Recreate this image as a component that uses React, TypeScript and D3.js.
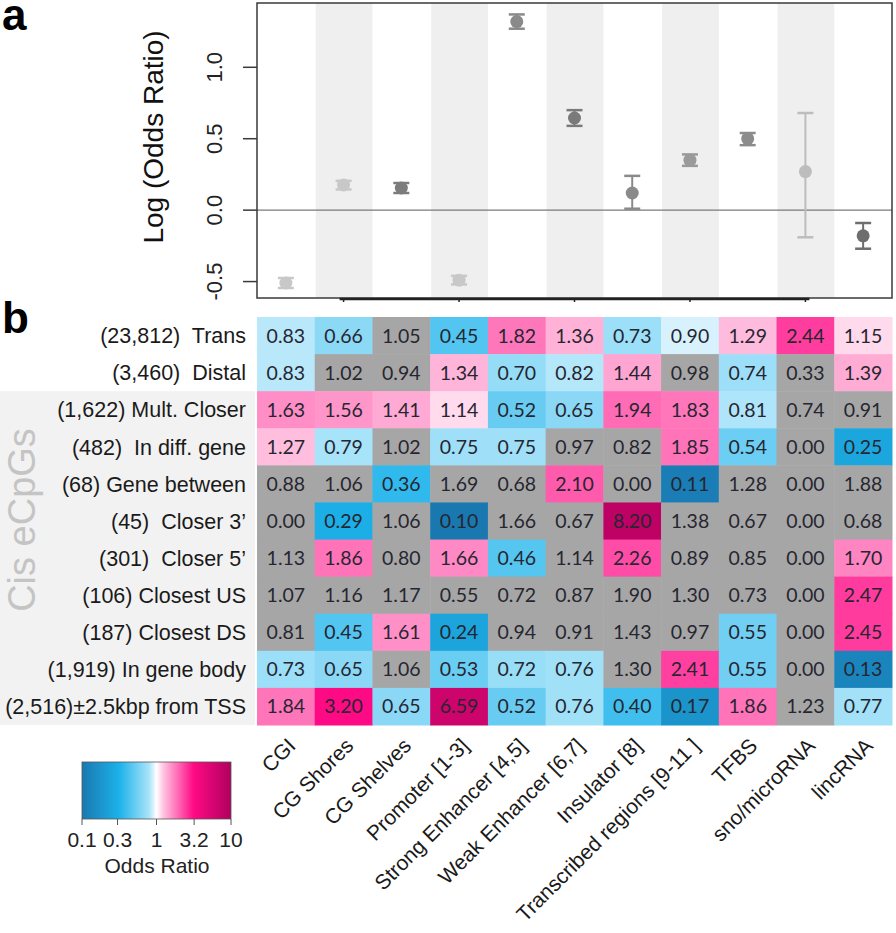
import React from "react";
import * as d3 from "d3";

const columns = [
  "CGI", "CG Shores", "CG Shelves", "Promoter [1-3]", "Strong Enhancer [4,5]",
  "Weak Enhancer [6,7]", "Insulator [8]", "Transcribed regions [9-11 ]", "TFBS",
  "sno/microRNA", "lincRNA",
];

// panel a: log odds ratio with confidence limits
const logOR = [-0.51, 0.176, 0.155, -0.49, 1.32, 0.645, 0.12, 0.35, 0.5, 0.27, -0.18];
const ciLow = [-0.545, 0.145, 0.12, -0.52, 1.27, 0.59, 0.01, 0.31, 0.455, -0.19, -0.27];
const ciHigh = [-0.475, 0.205, 0.19, -0.46, 1.37, 0.7, 0.24, 0.39, 0.54, 0.68, -0.09];
const yTicks = [-0.5, 0, 0.5, 1.0];
const pointShades = ["#c8c8c8", "#c8c8c8", "#7c7c7c", "#c8c8c8", "#8a8a8a", "#7a7a7a", "#8a8a8a", "#9a9a9a", "#8c8c8c", "#bdbdbd", "#6e6e6e"];

// panel b: odds ratio heatmap
const rowLabels = [
  "(23,812)  Trans", "(3,460)  Distal", "(1,622) Mult. Closer", "(482)  In diff. gene",
  "(68) Gene between", "(45)  Closer 3\u2019", "(301)  Closer 5\u2019", "(106) Closest US",
  "(187) Closest DS", "(1,919) In gene body", "(2,516)\u00b12.5kbp from TSS",
];
const oddsRatios = [
  [0.83, 0.66, 1.05, 0.45, 1.82, 1.36, 0.73, 0.9, 1.29, 2.44, 1.15],
  [0.83, 1.02, 0.94, 1.34, 0.7, 0.82, 1.44, 0.98, 0.74, 0.33, 1.39],
  [1.63, 1.56, 1.41, 1.14, 0.52, 0.65, 1.94, 1.83, 0.81, 0.74, 0.91],
  [1.27, 0.79, 1.02, 0.75, 0.75, 0.97, 0.82, 1.85, 0.54, 0.0, 0.25],
  [0.88, 1.06, 0.36, 1.69, 0.68, 2.1, 0.0, 0.11, 1.28, 0.0, 1.88],
  [0.0, 0.29, 1.06, 0.1, 1.66, 0.67, 8.2, 1.38, 0.67, 0.0, 0.68],
  [1.13, 1.86, 0.8, 1.66, 0.46, 1.14, 2.26, 0.89, 0.85, 0.0, 1.7],
  [1.07, 1.16, 1.17, 0.55, 0.72, 0.87, 1.9, 1.3, 0.73, 0.0, 2.47],
  [0.81, 0.45, 1.61, 0.24, 0.94, 0.91, 1.43, 0.97, 0.55, 0.0, 2.45],
  [0.73, 0.65, 1.06, 0.53, 0.72, 0.76, 1.3, 2.41, 0.55, 0.0, 0.13],
  [1.84, 3.2, 0.65, 6.59, 0.52, 0.76, 0.4, 0.17, 1.86, 1.23, 0.77],
];
const significant = [
  [1, 1, 0, 1, 1, 1, 1, 1, 1, 1, 1],
  [1, 0, 0, 1, 1, 1, 1, 0, 1, 0, 1],
  [1, 1, 1, 1, 1, 1, 1, 1, 1, 0, 0],
  [1, 1, 0, 1, 1, 0, 0, 1, 1, 0, 1],
  [0, 0, 1, 0, 0, 1, 0, 1, 0, 0, 0],
  [0, 1, 0, 1, 0, 0, 1, 0, 0, 0, 0],
  [0, 1, 0, 1, 1, 0, 1, 0, 0, 0, 1],
  [0, 0, 0, 0, 0, 0, 0, 0, 0, 0, 1],
  [0, 1, 1, 1, 0, 0, 0, 0, 1, 0, 1],
  [1, 1, 0, 1, 1, 1, 0, 1, 1, 0, 1],
  [1, 1, 1, 1, 1, 1, 1, 1, 1, 0, 1],
];
const legendTicks = [0.1, 0.3, 1, 3.2, 10];

const SANS = "'Liberation Sans', Arial, Helvetica, sans-serif";
const CELLFONT = "Lato, 'Open Sans', sans-serif";

const colorScale = d3
  .scaleLinear<string>()
  .domain([-1, -0.5, -0.1, 0, 0.1, 0.5, 1])
  .range(["#1a78b0", "#1cb2ea", "#a8e3f9", "#ffffff", "#ffc0df", "#ff0a85", "#b0005e"])
  .interpolate(d3.interpolateRgb)
  .clamp(true);

export default function App() {
  const left = 257;
  const right = 892;
  const x = d3.scaleBand<number>().domain(d3.range(columns.length)).range([left, right]).padding(0);
  const y = d3.scaleLinear().domain([-0.615, 1.45]).range([298, 3]);
  const rowsY = d3.scaleBand<number>().domain(d3.range(rowLabels.length)).range([317, 725]).padding(0);
  const bw = x.bandwidth();
  const rh = rowsY.bandwidth();

  const legX = d3.scaleLog().domain([0.1, 10]).range([82, 231]);
  const gradStops = d3.range(0, 1.0001, 0.05).map((t) => ({ t, c: colorScale(-1 + 2 * t) }));

  return (
    <svg width={896} height={933} style={{ position: "absolute", left: 0, top: 0, background: "#fff" }}>
      <defs>
        <linearGradient id="legGrad" x1="0" x2="1" y1="0" y2="0">
          {gradStops.map((s, i) => (
            <stop key={i} offset={`${s.t * 100}%`} stopColor={s.c} />
          ))}
        </linearGradient>
      </defs>

      {/* panel labels */}
      <text x={2} y={30} fontFamily={SANS} fontWeight="bold" fontSize={44}>a</text>
      <text x={2} y={333} fontFamily={SANS} fontWeight="bold" fontSize={44}>b</text>

      {/* panel a background bands */}
      {columns.map((_, i) =>
        i % 2 === 1 ? (
          <rect key={i} x={x(i)! + 1} y={3} width={bw - 1} height={295} fill="#efefef" />
        ) : null
      )}
      {/* zero line */}
      <line x1={left} x2={right} y1={y(0)} y2={y(0)} stroke="#7a7a7a" strokeWidth={1.3} />
      {/* error bars and points */}
      {columns.map((_, i) => {
        const cx = x(i)! + bw / 2;
        const c = pointShades[i];
        return (
          <g key={i}>
            <line x1={cx} x2={cx} y1={y(ciLow[i])} y2={y(ciHigh[i])} stroke={c} strokeWidth={2} />
            <line x1={cx - 8} x2={cx + 8} y1={y(ciLow[i])} y2={y(ciLow[i])} stroke={c} strokeWidth={2.5} />
            <line x1={cx - 8} x2={cx + 8} y1={y(ciHigh[i])} y2={y(ciHigh[i])} stroke={c} strokeWidth={2.5} />
            <circle cx={cx} cy={y(logOR[i])} r={6.5} fill={c} />
          </g>
        );
      })}
      {/* frame */}
      <rect x={left} y={3} width={right - left} height={295} fill="none" stroke="#3a3a3a" strokeWidth={1.5} />
      {/* y axis */}
      {yTicks.map((t) => (
        <g key={t}>
          <line x1={243} x2={left} y1={y(t)} y2={y(t)} stroke="#3a3a3a" strokeWidth={1.5} />
          <text
            transform={`translate(222,${y(t)}) rotate(-90)`}
            textAnchor="middle"
            fontFamily={SANS}
            fontSize={22}
            fill="#222"
          >
            {t.toFixed(1)}
          </text>
        </g>
      ))}
      <text
        transform={`translate(163,137) rotate(-90)`}
        textAnchor="middle"
        fontFamily={SANS}
        fontSize={28}
        fill="#111"
      >
        Log (Odds Ratio)
      </text>
      {/* bottom axis line */}
      <line
        x1={x(1)! + bw / 2 - 4}
        x2={x(9)! + bw / 2 + 4}
        y1={299}
        y2={299}
        stroke="#222"
        strokeWidth={2.5}
      />
      {[1, 3, 5, 7, 9].map((i) => (
        <line key={i} x1={x(i)! + bw / 2} x2={x(i)! + bw / 2} y1={299} y2={302} stroke="#222" strokeWidth={1.5} />
      ))}

      {/* panel b: cis background */}
      <rect x={0} y={rowsY(2)!} width={255} height={725 - rowsY(2)!} fill="#f2f2f2" />
      <text
        transform={`translate(35,520) rotate(-90)`}
        textAnchor="middle"
        fontFamily={SANS}
        fontSize={38}
        fill="#c4c4c4"
      >
        Cis eCpGs
      </text>

      {/* heatmap cells */}
      {oddsRatios.map((row, r) =>
        row.map((v, c) => {
          const fill = significant[r][c] ? colorScale(Math.log10(Math.max(v, 0.01))) : "#a6a6a6";
          return (
            <g key={`${r}-${c}`}>
              <rect x={x(c)!} y={rowsY(r)!} width={bw + 0.5} height={rh + 0.5} fill={fill} />
              <text
                x={x(c)! + bw / 2}
                y={rowsY(r)! + rh / 2}
                dy="0.36em"
                textAnchor="middle"
                fontFamily={CELLFONT}
                fontSize={19.5}
                fill="#262630"
              >
                {v.toFixed(2)}
              </text>
            </g>
          );
        })
      )}

      {/* row labels */}
      {rowLabels.map((lab, r) => (
        <text
          key={r}
          x={246}
          y={rowsY(r)! + rh / 2}
          dy="0.36em"
          textAnchor="end"
          fontFamily={SANS}
          fontSize={21.5}
          fill="#1a1a1a"
          style={{ whiteSpace: "pre" }}
        >
          {lab}
        </text>
      ))}

      {/* column labels */}
      {columns.map((lab, i) => (
        <text
          key={i}
          transform={`translate(${x(i)! + bw / 2 + 11},747) rotate(-45)`}
          textAnchor="end"
          fontFamily={SANS}
          fontSize={21}
          fill="#1a1a1a"
        >
          {lab}
        </text>
      ))}

      {/* legend */}
      <rect x={82} y={762} width={149} height={57} fill="url(#legGrad)" stroke="#555" strokeWidth={0.8} />
      {legendTicks.map((t) => (
        <g key={t}>
          <line x1={legX(t)} x2={legX(t)} y1={819} y2={825} stroke="#555" strokeWidth={1} />
          <text x={legX(t)} y={847} textAnchor="middle" fontFamily={SANS} fontSize={21} fill="#222">
            {String(t)}
          </text>
        </g>
      ))}
      <text x={157} y={873} textAnchor="middle" fontFamily={SANS} fontSize={21} fill="#222">
        Odds Ratio
      </text>
    </svg>
  );
}
